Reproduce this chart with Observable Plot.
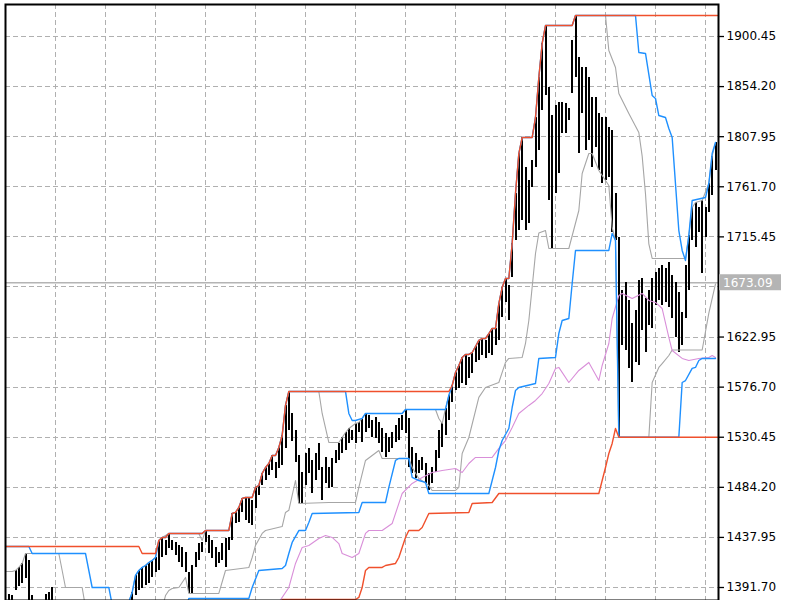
<!DOCTYPE html>
<html><head><meta charset="utf-8">
<script src="https://cdn.jsdelivr.net/npm/d3@7"></script>
<script src="https://cdn.jsdelivr.net/npm/@observablehq/plot@0.6"></script>
<style>
body{margin:0;background:#fff;}
#chart{position:absolute;left:0;top:0;}
</style></head><body><div id="chart"></div>
<script>
const priceTicks = [1900.45,1854.20,1807.95,1761.70,1715.45,1622.95,1576.70,1530.45,1484.20,1437.95,1391.70];
const gridPrices = [1900.45,1854.20,1807.95,1761.70,1715.45,1669.20,1622.95,1576.70,1530.45,1484.20,1437.95,1391.70];
const currentPrice = 1673.09;

const barHigh = [
1385.3,1384.3,1407.4,1410.2,1413.9,1423.1,1416.7,1384.3,1377.0,1375.1,
1378.5,1385.3,1387.1,1391.7,1378,1372,1365,1368,1360,1355,
1350,1358,1362,1355,1348,1345,1352,1360,1365,1362,
1368,1372,1370,1374,1372,1376,1378.5,1387.1,1402.8,1407.4,
1410.2,1412.0,1414.8,1416.7,1419.4,1435.1,1437.9,1435.1,1441.6,1435.0,
1433.3,1430.5,1428.7,1424.0,1405.6,1412.0,1424.0,1432.3,1433.5,1444.4,
1439.7,1435.1,1428.7,1424.0,1432.3,1437.0,1437.9,1460.0,1461.0,1465.6,
1473.9,1474.8,1473.9,1472.0,1484.1,1485.9,1497.0,1502.5,1506.2,1513.6,
1507.1,1521.0,1532.1,1559.8,1572.7,1552.4,1536.7,1513.6,1497.9,1515.4,
1520.1,1509.0,1515.4,1524.7,1502.5,1511.8,1502.5,1510.8,1518.2,1524.7,
1530.2,1534.8,1538.5,1536.7,1543.1,1544.1,1547.8,1552.4,1550.5,1545.9,
1548.7,1544.1,1538.5,1533.9,1530.2,1534.8,1541.3,1547.8,1550.5,1556.1,
1547.8,1521.0,1515.4,1509.0,1511.8,1506.2,1497.0,1502.5,1518.2,1536.7,
1543.1,1557.0,1569.0,1578.2,1590.2,1596.7,1604.1,1606.9,1604.1,1608.7,
1614.2,1619.8,1621.6,1619.8,1626.2,1630.9,1630.9,1653.9,1668.7,1677.0,
1670.6,1709.3,1755.5,1792.4,1807.2,1779.5,1767.5,1786.0,1825.7,1862.6,
1894.0,1910.6,1853.4,1827.5,1836.8,1839.5,1839.5,1838.6,1834.0,1896.8,
1919.9,1881.1,1871.8,1871.8,1862.6,1844.1,1844.1,1829.4,1825.7,1825.7,
1816.4,1813.7,1755.5,1714.9,1665.9,1673.3,1656.7,1635.5,1647.5,1675.2,
1677.0,1658.6,1665.9,1677.0,1682.6,1686.3,1689.0,1686.3,1691.8,1679.8,
1673.3,1664.1,1645.6,1689.0,1716.7,1742.6,1747.2,1742.6,1749.0,1742.6,
1764.7,1790.0,1802.6];

const barLow = [
1370.5,1368.6,1389.0,1392.6,1395.4,1400.0,1377.9,1368.6,1361.3,1356.6,
1361.3,1365.9,1368.6,1370.5,1358,1350,1345,1350,1340,1335,
1330,1340,1345,1338,1330,1325,1335,1342,1348,1345,
1350,1355,1352,1358,1356,1360,1366,1372.3,1384.3,1389.0,
1390.8,1393.6,1395.4,1401.0,1405.6,1407.4,1419.4,1421.3,1427.7,1425.9,
1421.3,1414.8,1410.2,1405.6,1386.2,1386.2,1410.2,1416.7,1424.0,1433.3,
1423.1,1418.5,1410.2,1413.9,1416.7,1410.2,1425.9,1435.1,1450.8,1451.7,
1461.0,1453.6,1450.8,1449.0,1464.7,1476.7,1485.9,1490.5,1495.1,1499.7,
1492.4,1501.6,1504.4,1520.1,1536.7,1526.5,1507.1,1469.3,1469.3,1485.9,
1497.0,1478.5,1490.5,1499.7,1472.1,1487.8,1483.1,1484.1,1506.2,1509.0,
1515.4,1518.2,1524.7,1527.4,1524.7,1534.8,1525.6,1534.8,1538.5,1530.2,
1529.3,1524.7,1516.4,1511.8,1516.4,1520.1,1525.6,1527.4,1536.7,1533.9,
1502.5,1497.0,1492.4,1497.0,1499.7,1487.8,1481.3,1487.8,1497.9,1510.8,
1521.0,1532.1,1545.9,1562.5,1573.6,1575.5,1580.1,1578.2,1584.7,1589.3,
1599.5,1601.3,1605.9,1603.2,1607.8,1605.9,1615.2,1619.8,1641.0,1654.9,
1638.2,1677.9,1712.1,1721.3,1730.6,1721.3,1727.8,1761.0,1779.5,1795.2,
1832.1,1846.0,1749.0,1703.8,1755.5,1774.0,1810.9,1810.9,1822.9,1847.8,
1862.6,1792.4,1829.4,1795.2,1804.4,1779.5,1798.0,1776.7,1764.7,1767.5,
1770.3,1719.5,1712.1,1530.5,1615.2,1610.5,1593.9,1581.0,1599.5,1596.7,
1629.0,1608.7,1633.6,1630.9,1652.1,1656.7,1652.1,1654.9,1650.2,1640.1,
1622.6,1608.7,1615.2,1640.1,1665.9,1712.1,1705.6,1719.5,1681.6,1714.9,
1738.0,1753.7,1776.7];

const redUpper = [[-1,1429.6],[39,1429.6],[40,1423.1],[44,1423.1],[45,1435.1],[46,1437.9],[47,1437.9],[48,1441.6],[58,1441.6],[59,1444.4],[66,1444.4],[67,1460.0],[68,1461.0],[69,1465.6],[70,1473.9],[71,1474.8],[73,1474.8],[74,1484.1],[75,1485.9],[76,1497.0],[77,1502.5],[78,1506.2],[79,1513.6],[80,1513.6],[81,1521.0],[82,1532.1],[83,1559.8],[84,1572.7],[132,1572.7],[133,1578.2],[134,1590.2],[135,1596.7],[136,1604.1],[137,1606.9],[138,1606.9],[139,1608.7],[140,1614.2],[141,1619.8],[142,1621.6],[143,1621.6],[144,1626.2],[145,1630.9],[146,1630.9],[147,1653.9],[148,1668.7],[149,1677.0],[150,1677.0],[151,1709.3],[152,1755.5],[153,1792.4],[154,1807.2],[157,1807.2],[158,1825.7],[159,1862.6],[160,1894.0],[161,1910.6],[169,1910.6],[170,1919.9],[212.6,1919.9]];

const redLower = [[-1,1330],[81,1330],[82,1380.6],[104,1380.6],[105,1382.5],[106,1391.7],[107,1407.4],[108,1410.2],[112,1410.2],[113,1412.0],[116,1413.9],[117,1419.4],[118,1428.7],[119,1437.9],[120,1444.3],[123,1444.3],[124,1447.1],[125,1453.6],[126,1460.0],[138,1461.0],[139,1469.3],[145,1470.2],[147,1478.5],[177,1478.5],[178,1490.5],[179,1502.5],[180,1515.4],[181,1524.7],[182,1538.5],[183,1530.5],[212.6,1530.5]];

const blueUpper = [[-1,1429.6],[6,1429.6],[7,1423.1],[23,1423.1],[25,1391.7],[30,1391.7],[32,1360],[35,1365],[36,1378.5],[37,1387.1],[38,1402.8],[39,1407.4],[40,1410.2],[41,1412.0],[42,1414.8],[43,1416.7],[44,1419.4],[45,1435.1],[46,1437.9],[47,1437.9],[48,1441.6],[58,1441.6],[59,1444.4],[66,1444.4],[67,1460.0],[68,1461.0],[69,1465.6],[70,1473.9],[71,1474.8],[73,1474.8],[74,1484.1],[75,1485.9],[76,1497.0],[77,1502.5],[78,1506.2],[79,1513.6],[80,1513.6],[81,1521.0],[82,1532.1],[83,1559.8],[84,1572.7],[101,1572.7],[102,1552.4],[103,1545.9],[104,1545.9],[106,1547.8],[107,1552.4],[118,1552.4],[119,1556.1],[131,1556.1],[132,1569.0],[133,1578.2],[134,1590.2],[135,1596.7],[136,1604.1],[137,1606.9],[138,1606.9],[139,1608.7],[140,1614.2],[141,1619.8],[142,1621.6],[143,1621.6],[144,1626.2],[145,1630.9],[146,1630.9],[147,1653.9],[148,1668.7],[149,1677.0],[150,1677.0],[151,1709.3],[152,1755.5],[153,1792.4],[154,1807.2],[157,1807.2],[158,1825.7],[159,1862.6],[160,1894.0],[161,1910.6],[169,1910.6],[170,1919.9],[188,1919.9],[189,1885.7],[191,1884.8],[193,1846.0],[194,1843.2],[195,1827.5],[197,1825.7],[198,1815.5],[199,1807.2],[201,1721.3],[202,1702.9],[203,1693.6],[204,1716.7],[205,1749.0],[209,1751.8],[210,1764.7],[211,1792.4],[212,1802.6]];

const blueLower = [[-1,1300],[53,1370],[54,1381.6],[72,1381.6],[73,1391.7],[75,1407.4],[82,1409.3],[83,1412.0],[84,1423.1],[85,1433.3],[87,1444.3],[89,1444.3],[90,1451.7],[91,1460.0],[105,1461.0],[106,1470.2],[113,1470.2],[114,1484.1],[116,1509.0],[117,1510.8],[120,1510.8],[121,1493.3],[123,1490.5],[125,1488.7],[126,1478.5],[144,1478.5],[145,1490.5],[146,1502.5],[147,1518.2],[148,1527.4],[150,1538.5],[151,1557.9],[152,1573.6],[153,1576.4],[158,1580.1],[159,1603.2],[164,1604.1],[165,1626.2],[166,1638.2],[168,1640.1],[169,1672.4],[170,1702.9],[180,1702.9],[181,1718.6],[182,1712.1],[183,1530.5],[201,1530.5],[202,1581.0],[203,1582.8],[205,1594.0],[206,1594.9],[207,1601.3],[208,1603.2],[212,1603.2]];

const grayUpper = [[-1,1406.5],[1,1406.5],[2,1407.4],[3,1410.2],[4,1413.9],[5,1423.1],[15,1423.1],[17,1391.7],[22,1391.7],[24,1355],[35,1360],[36,1378.5],[37,1387.1],[38,1402.8],[39,1407.4],[40,1410.2],[41,1412.0],[42,1414.8],[43,1416.7],[44,1419.4],[45,1435.1],[46,1437.9],[48,1441.6],[57,1441.6],[58,1435.0],[59,1444.4],[66,1444.4],[67,1460.0],[68,1461.0],[69,1465.6],[70,1473.9],[71,1474.8],[73,1474.8],[74,1484.1],[75,1485.9],[76,1497.0],[77,1502.5],[78,1506.2],[79,1513.6],[80,1513.6],[81,1521.0],[82,1532.1],[83,1559.8],[84,1572.7],[93,1572.7],[94,1552.4],[96,1525.6],[99,1525.6],[100,1530.2],[101,1534.8],[102,1538.5],[104,1543.1],[105,1544.1],[106,1547.8],[107,1552.4],[118,1552.4],[119,1556.1],[128,1556.1],[129,1547.8],[130,1543.1],[131,1557.0],[132,1569.0],[133,1578.2],[134,1590.2],[135,1596.7],[136,1604.1],[137,1606.9],[138,1606.9],[139,1608.7],[140,1614.2],[141,1619.8],[142,1621.6],[143,1621.6],[144,1626.2],[145,1630.9],[146,1630.9],[147,1653.9],[148,1668.7],[149,1677.0],[150,1677.0],[151,1709.3],[152,1755.5],[153,1792.4],[154,1807.2],[157,1807.2],[158,1825.7],[159,1862.6],[160,1894.0],[161,1910.6],[169,1910.6],[170,1919.9],[179,1919.9],[180,1887.5],[182,1871.8],[183,1847.8],[186,1829.4],[189,1811.8],[190,1790],[191,1755],[192,1709],[193,1695.5],[203,1695.5],[204,1716.7],[205,1742.6],[206,1747.2],[208,1749.0],[210,1764.7],[211,1790.0],[212,1802.6]];

const grayLower = [[40,1360],[46,1372.3],[47,1384.3],[48,1389.0],[49,1390.8],[51,1391.7],[53,1401.0],[54,1386.2],[63,1386.2],[65,1407.4],[72,1410.2],[73,1419.4],[74,1430.5],[76,1441.6],[77,1444.3],[82,1448],[83,1461.0],[84,1463],[86,1490.5],[87,1469.3],[96,1470.2],[104,1470.2],[105,1484.1],[107,1509.0],[111,1518.2],[112,1510.8],[120,1510.8],[121,1502.5],[123,1492.4],[126,1485.9],[127,1481.3],[134,1481.3],[135,1484.1],[136,1515.4],[138,1530.2],[141,1567.2],[143,1576.4],[147,1581.0],[149,1599.5],[150,1603.2],[154,1604.1],[155,1617.0],[156,1638.2],[158,1700.1],[159,1719],[161,1721.3],[162,1704.7],[168,1704.7],[171,1739.8],[172,1774.0],[174,1792.4],[175,1792.4],[177,1776.7],[180,1762.9],[181,1724.1],[182,1712.1],[183,1530.5],[192,1530.5],[193,1581.0],[195,1594.9],[196,1598.5],[198,1605.9],[199,1611],[208,1611],[210,1645],[212,1672]];

const pinkLine = [[80,1370],[81,1378],[84,1391.7],[86,1413.9],[88,1428.7],[90,1430.5],[93,1437.0],[95,1439.7],[97,1437.9],[99,1432.3],[100,1423.1],[103,1419.4],[105,1423.1],[107,1441.6],[108,1444.3],[112,1444.3],[115,1450.8],[118,1478.5],[121,1487.8],[124,1493.3],[127,1497.9],[130,1499.7],[134,1501.6],[136,1497.9],[138,1506.2],[140,1511.8],[145,1511.8],[147,1520.1],[149,1527.4],[151,1539.5],[153,1552.4],[156,1559.8],[158,1564.4],[160,1570.8],[162,1580.1],[164,1593.9],[165,1594.9],[168,1581.0],[171,1592.1],[174,1599.5],[177,1582.8],[178,1596.7],[180,1617.0],[181,1640.1],[183,1661.3],[184,1663.2],[187,1658.6],[190,1663.2],[192,1656.7],[194,1654.9],[196,1649.3],[198,1622.6],[199,1610.5],[202,1603.2],[204,1601.3],[207,1603.2],[210,1604.1],[211,1605.9],[212,1604.1]];

const bars = barHigh.map((h, i) => ({i, high: h, low: barLow[i]}));
const gridBars = d3.range(14, 213, 15);
const px = d => d[0], py = d => d[1];

const plot = Plot.plot({
  width: 800, height: 600,
  marginLeft: 5, marginRight: 82, marginTop: 4, marginBottom: 0,
  style: {fontFamily: "DejaVu Sans, sans-serif", fontSize: "12px", background: "#fff", color: "#000"},
  x: {domain: [-1, 212.9], axis: null},
  y: {domain: [1379.7, 1930.0], axis: null},
  marks: [
    Plot.ruleY(gridPrices, {stroke: "#b0b0b0", strokeDasharray: "5,3", shapeRendering: "crispEdges"}),
    Plot.ruleX(gridBars, {stroke: "#b0b0b0", strokeDasharray: "5,3", shapeRendering: "crispEdges"}),
    Plot.ruleY([currentPrice], {stroke: "#b4b4b4", strokeWidth: 1.3}),
    Plot.ruleX(bars, {x: "i", y1: "low", y2: "high", stroke: "#000", strokeWidth: 2, clip: true, shapeRendering: "crispEdges"}),
    Plot.line(grayUpper, {x: px, y: py, stroke: "#a6a6a6", strokeWidth: 1.1, clip: true}),
    Plot.line(grayLower, {x: px, y: py, stroke: "#a6a6a6", strokeWidth: 1.1, clip: true}),
    Plot.line(pinkLine, {x: px, y: py, stroke: "#d98fd9", strokeWidth: 1.1, clip: true}),
    Plot.line(blueUpper, {x: px, y: py, stroke: "#1e90ff", strokeWidth: 1.4, clip: true}),
    Plot.line(blueLower, {x: px, y: py, stroke: "#1e90ff", strokeWidth: 1.4, clip: true}),
    Plot.line(redUpper, {x: px, y: py, stroke: "#f0502c", strokeWidth: 1.4, clip: true}),
    Plot.line(redLower, {x: px, y: py, stroke: "#f0502c", strokeWidth: 1.4, clip: true}),
    Plot.axisY(priceTicks, {anchor: "right", tickSize: 5, tickPadding: 3, tickFormat: d => d.toFixed(2), fill: "#000", stroke: "#000", strokeWidth: 1.3}),
    Plot.frame({stroke: "#000", strokeWidth: 2})
  ]
});

const svg = d3.select(plot);
const yc = plot.scale("y").apply(currentPrice);
const g = svg.append("g");
g.append("rect").attr("x", 719).attr("y", yc - 8).attr("width", 62).attr("height", 16).attr("fill", "#b4b4b4");
g.append("text").attr("x", 723).attr("y", yc + 4.5).attr("text-anchor", "start").attr("fill", "#fff").attr("font-size", 12).attr("font-family", "DejaVu Sans, sans-serif").text(currentPrice.toFixed(2));

document.getElementById("chart").appendChild(plot);
</script></body></html>
